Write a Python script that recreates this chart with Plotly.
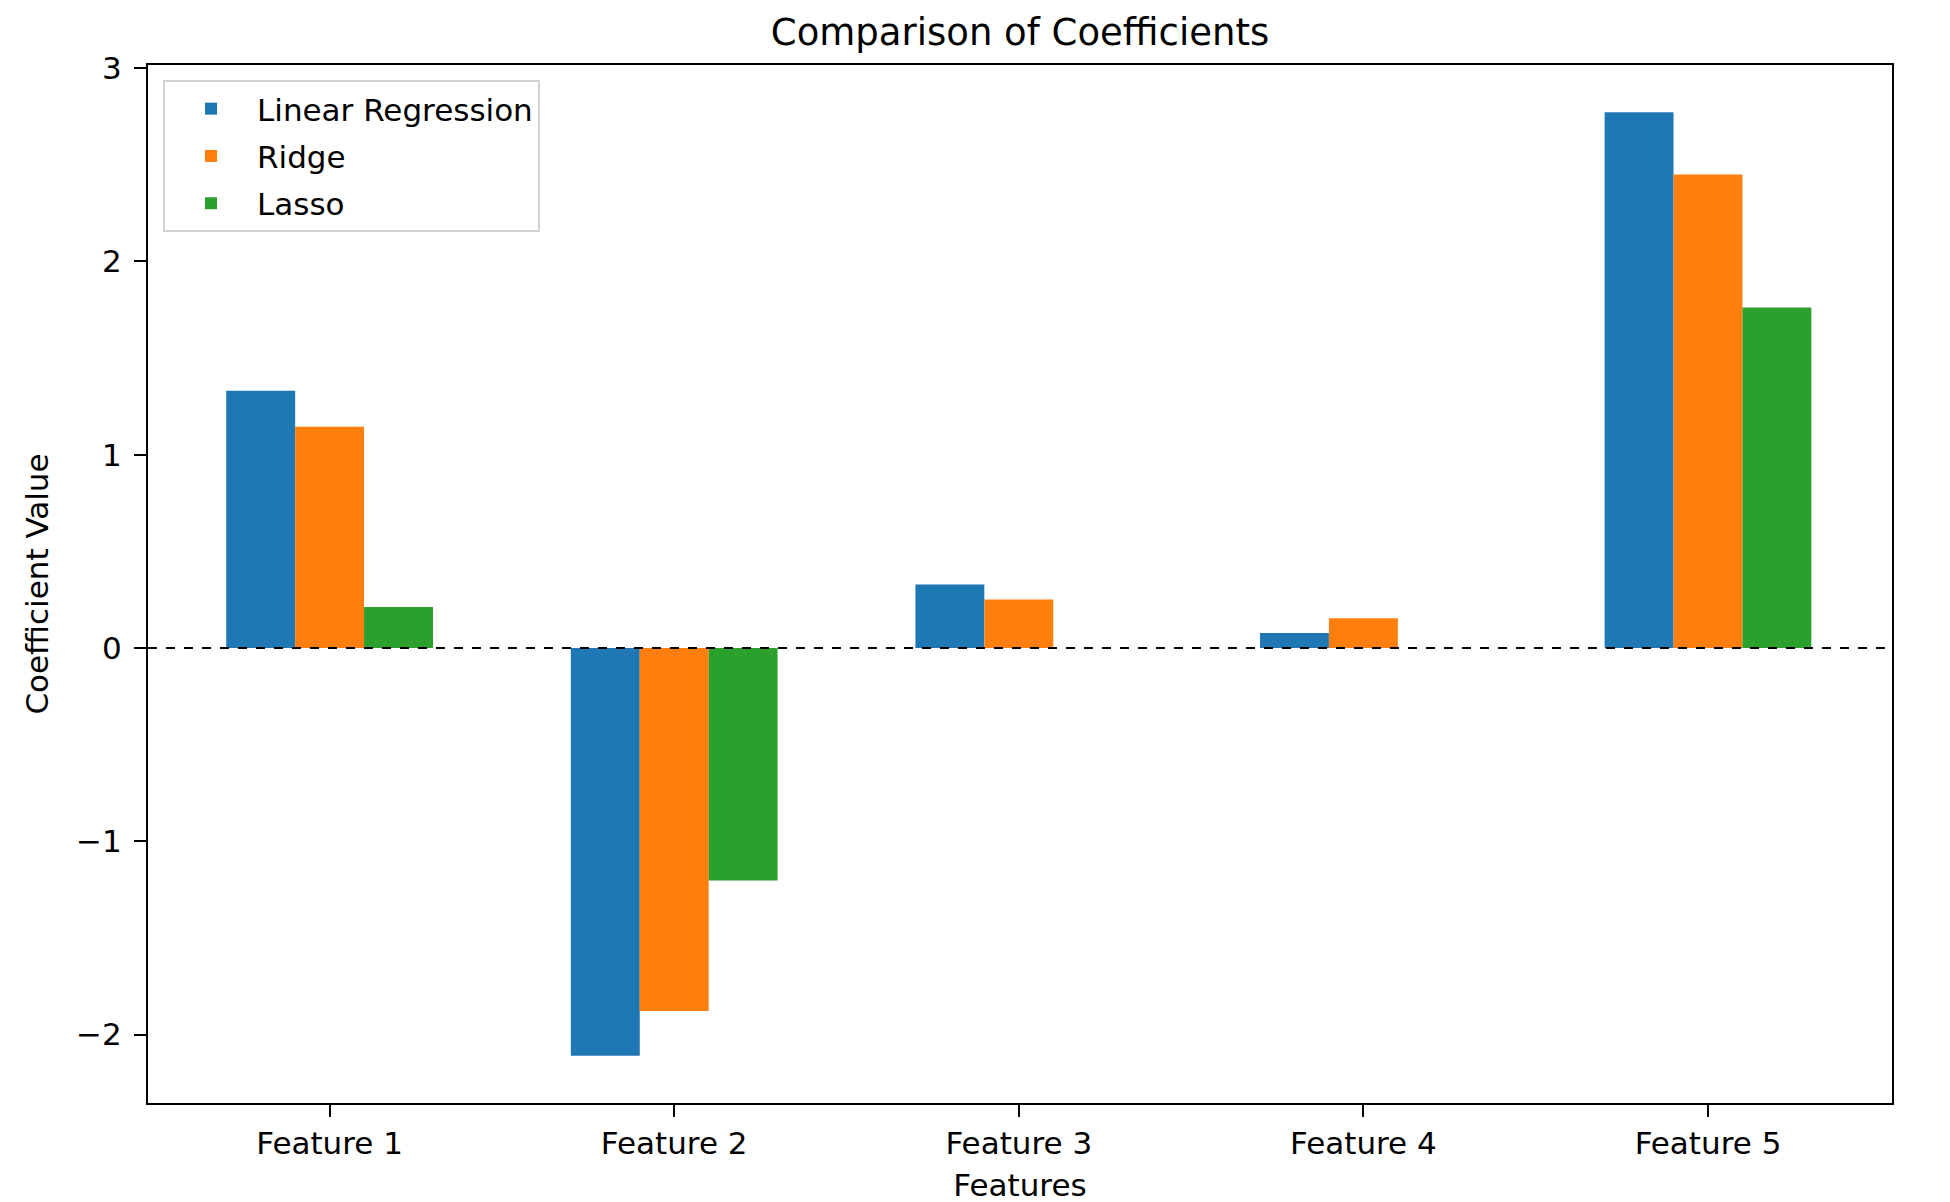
import plotly.graph_objects as go

features = ["Feature 1", "Feature 2", "Feature 3", "Feature 4", "Feature 5"]
linear_regression = [1.331, -2.109, 0.328, 0.077, 2.772]
ridge = [1.145, -1.878, 0.251, 0.154, 2.450]
lasso = [0.212, -1.203, 0.0, 0.0, 1.762]

series_names = ["Linear Regression", "Ridge", "Lasso"]
series_values = [linear_regression, ridge, lasso]
colors = ["#1f77b4", "#ff7f0e", "#2ca02c"]

font_family = "DejaVu Sans"

fig = go.Figure()
for name, vals, col in zip(series_names, series_values, colors):
    fig.add_trace(go.Bar(x=features, y=vals, name=name, legendgroup=name,
                         marker=dict(color=col, line=dict(width=0))))

fig.add_shape(type="line", xref="paper", x0=0, x1=1, yref="y", y0=0, y1=0,
              line=dict(color="black", width=2, dash="dash"))

W, H = 1950, 1202
L, R, T, B = 140, 1884, 57, 1095
fig.update_layout(
    width=W, height=H,
    margin=dict(l=L, r=W - R, t=T, b=H - B, autoexpand=False),
    paper_bgcolor="white", plot_bgcolor="white",
    font=dict(family=font_family, size=31, color="black"),
    barmode="group", bargap=0.4, bargroupgap=0,
    title=dict(text="Comparison of Coefficients", x=0.5, xref="paper", xanchor="center",
               y=1 - 24 / H, yref="container", yanchor="middle",
               font=dict(size=37, color="black", family=font_family)),
    legend=dict(x=(155 - L) / (R - L), y=1 - (72 - T) / (B - T),
                xanchor="left", yanchor="top",
                bgcolor="rgba(255,255,255,0.8)", bordercolor="#d3d3d3", borderwidth=2,
                font=dict(size=31, family=font_family), itemwidth=82,
                tracegroupgap=4),
    showlegend=True,
)
fig.update_xaxes(
    range=[-0.527, 4.534], showgrid=False, zeroline=False,
    showline=True, linecolor="black", linewidth=2.3, mirror=True,
    ticks="outside", ticklen=12, tickwidth=2.3, tickcolor="black",
    tickfont=dict(size=31),
    title=dict(text="Features", font=dict(size=31), standoff=14),
)
fig.update_yaxes(
    range=[-2.354, 3.016], showgrid=False, zeroline=False,
    showline=True, linecolor="black", linewidth=2.3, mirror=True,
    ticks="outside", ticklen=12, tickwidth=2.3, tickcolor="black",
    ticklabelstandoff=6,
    tickvals=[-2, -1, 0, 1, 2, 3], ticktext=["\u22122", "\u22121", "0", "1", "2", "3"],
    tickfont=dict(size=31),
    title=dict(text="Coefficient Value", font=dict(size=31), standoff=18),
)

fig.write_html("out.html")
